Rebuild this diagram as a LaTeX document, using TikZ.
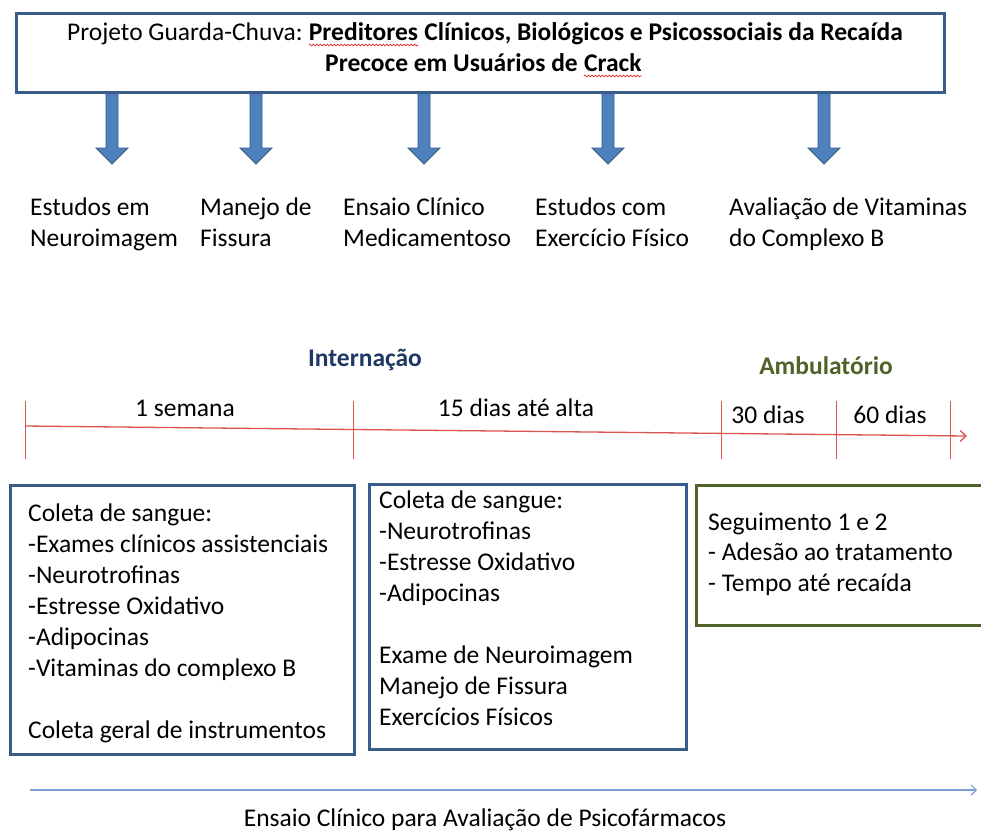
\documentclass[tikz,border=0pt]{standalone}
\usepackage{fontspec}
\setmainfont{Carlito}
\usetikzlibrary{arrows.meta,decorations.pathmorphing,calc}
\definecolor{boxblue}{HTML}{385D8A}
\definecolor{arrowfill}{HTML}{4F81BD}
\definecolor{tlred}{HTML}{D9534F}
\definecolor{olivegreen}{HTML}{4F6228}
\definecolor{navytext}{HTML}{1F3864}
\definecolor{axisblue}{HTML}{7F9FCF}
\definecolor{spellred}{HTML}{E02020}
\begin{document}
\begin{tikzpicture}[x=1pt,y=-1pt,
  txt/.style={inner sep=0pt, font=\fontsize{25.5}{31}\selectfont, anchor=base west},
  txtc/.style={txt, anchor=base},
  txtb/.style={txt, font=\fontsize{25.5}{31}\selectfont\bfseries},
  bluebox/.style={draw=boxblue, line width=2.5pt},
  greenbox/.style={draw=olivegreen, line width=2.5pt},
  blockarrow/.style={fill=arrowfill, draw=boxblue, line width=0.8pt},
  tick/.style={draw=tlred, line width=1pt},
  spell/.style={draw=spellred, line width=0.6pt, decorate, decoration={snake, amplitude=1pt, segment length=3.5pt}}
]
\clip (0,0) rectangle (981,831);
\fill[white] (0,0) rectangle (981,831);

% block arrows from the top box
\foreach \x [count=\i] in {112,256,424,608,824} {
  \coordinate (s\i) at (\x,91);
  \path[blockarrow] (s\i) ++(-6,0) -- ++(0,57) -- ++(-10,0) -- ++(16,16) -- ++(16,-16) -- ++(-10,0) -- ++(0,-57) -- cycle;
}

% top box
\node[bluebox, fill=white, minimum width=928pt, minimum height=79pt, anchor=north west, inner sep=0pt] (top) at (15,12) {};
\node[txt] (t1a) at (67,40) {Projeto Guarda-Chuva:};
\node[txtb] (t1b) at ($(t1a.base east)+(5.8,0)$) {Preditores};
\node[txtb] (t1c) at ($(t1b.base east)+(5.8,0)$) {Clínicos, Biológicos e Psicossociais da Recaída};
\node[txtb] (t2a) at (325,71) {Precoce em Usuários de};
\node[txtb] (t2b) at ($(t2a.base east)+(5.8,0)$) {Crack};
\draw[spell] ($(t1b.base west)+(0,5)$) -- ($(t1b.base east)+(0,5)$);
\draw[spell] ($(t2b.base west)+(0,5)$) -- ($(t2b.base east)+(0,5)$);

% study labels
\node[txt] (l1a) at (30,215) {Estudos em};
\node[txt] (l1b) at (30,246) {Neuroimagem};
\node[txt] (l2a) at (200,215) {Manejo de};
\node[txt] (l2b) at (200,246) {Fissura};
\node[txt] (l3a) at (343,215) {Ensaio Clínico};
\node[txt] (l3b) at (343,246) {Medicamentoso};
\node[txt] (l4a) at (535,215) {Estudos com};
\node[txt] (l4b) at (535,246) {Exercício Físico};
\node[txt] (l5a) at (729,215) {Avaliação de Vitaminas};
\node[txt] (l5b) at (729,246) {do Complexo B};

% phase headings
\node[txtc, font=\fontsize{25.5}{31}\selectfont\bfseries, text=navytext] (intern) at (365,366) {Internação};
\node[txtc, font=\fontsize{25.5}{31}\selectfont\bfseries, text=olivegreen] (ambul) at (826,374) {Ambulatório};

% timeline
\coordinate (tl0) at (25,426);
\coordinate (tlE) at (967,436);
\draw[tlred, line width=1.3pt, -{Straight Barb[length=6pt,width=11pt]}] (tl0) -- (tlE);
\foreach \x [count=\i] in {25,353,721,836,950} {
  \coordinate (k\i) at (\x,401);
  \draw[tick] (k\i) -- ++(0,58);
}
\node[txtc] (w1) at (185,416) {1 semana};
\node[txtc] (w2) at (516,416) {15 dias até alta};
\node[txtc] (w3) at (768,423) {30 dias};
\node[txtc] (w4) at (890,423) {60 dias};

% box A
\node[bluebox, minimum width=344pt, minimum height=269pt, anchor=north west, inner sep=0pt] (boxA) at (9,484) {};
\foreach \t [count=\i] in {Coleta de sangue:,-Exames clínicos assistenciais,-Neurotrofinas,-Estresse Oxidativo,-Adipocinas,-Vitaminas do complexo B} {
  \node[txt] (a\i) at (28,{521+(\i-1)*31}) {\t};
}
\node[txt] (a8) at (28,738) {Coleta geral de instrumentos};

% box B
\node[bluebox, minimum width=317pt, minimum height=265pt, anchor=north west, inner sep=0pt] (boxB) at (368,483) {};
\foreach \t [count=\i] in {Coleta de sangue:,-Neurotrofinas,-Estresse Oxidativo,-Adipocinas} {
  \node[txt] (b\i) at (379,{508+(\i-1)*31}) {\t};
}
\foreach \t [count=\i] in {Exame de Neuroimagem,Manejo de Fissura,Exercícios Físicos} {
  \node[txt] (bb\i) at (379,{663+(\i-1)*31}) {\t};
}

% box C
\node[greenbox, minimum width=300pt, minimum height=140pt, anchor=north west, inner sep=0pt] (boxC) at (695,484) {};
\node[txt] (c1) at (708,530) {Seguimento 1 e 2};
\node[txt] (c2) at (708,560) {- Adesão ao tratamento};
\node[txt] (c3) at (708,591) {- Tempo até recaída};

% bottom axis
\coordinate (ax0) at (30,790);
\coordinate (ax1) at (977,790);
\draw[axisblue, line width=1.2pt, -{Straight Barb[length=5pt,width=10pt]}] (ax0) -- (ax1);
\node[txtc] (axl) at (485,826) {Ensaio Clínico para Avaliação de Psicofármacos};
\end{tikzpicture}
\end{document}
